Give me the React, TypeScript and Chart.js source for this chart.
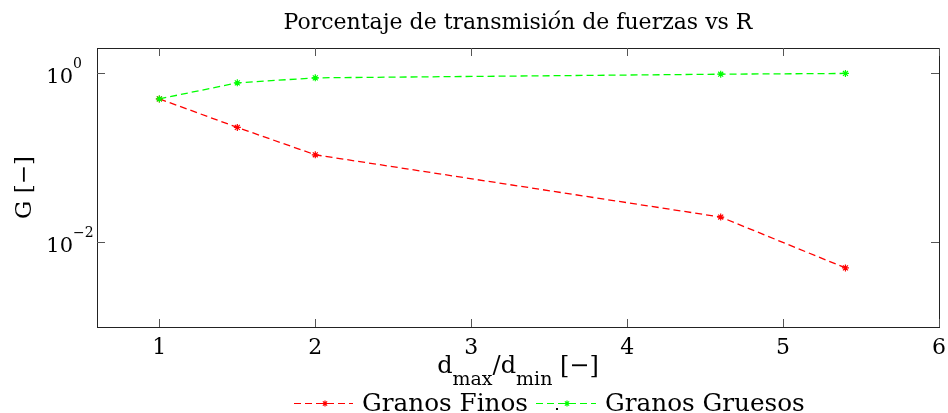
import { useEffect, useRef } from "react";
import { Chart, registerables } from "chart.js";

Chart.register(...registerables);

// Size ratio d_max/d_min and the share of force transmitted by each grain class
const ratios = [1, 1.5, 2, 4.6, 5.4];
const granosFinos = [0.5, 0.23, 0.109, 0.02, 0.005];
const granosGruesos = [0.5, 0.774, 0.887, 0.98, 1.0];

const xTicks = [1, 2, 3, 4, 5, 6];
const yTickExponents = [0, -2];

const seriesNames = ["Granos Finos", "Granos Gruesos"];
const seriesColors = ["#ff0000", "#00ff00"];

const titleParts = ["Porcentaje de transmisi", "ó", "n de fuerzas vs R"];
const yAxisLabel = "G [−]";

const SERIF = "'DejaVu Serif', serif";

type Run = { text: string; font: string; dy: number };

function runsWidth(ctx: CanvasRenderingContext2D, runs: Run[]) {
  let w = 0;
  for (const r of runs) {
    ctx.font = r.font;
    w += ctx.measureText(r.text).width;
  }
  return w;
}

function drawRuns(ctx: CanvasRenderingContext2D, runs: Run[], x: number, y: number) {
  let cx = x;
  ctx.textAlign = "left";
  ctx.textBaseline = "alphabetic";
  for (const r of runs) {
    ctx.font = r.font;
    ctx.fillText(r.text, cx, y + r.dy);
    cx += ctx.measureText(r.text).width;
  }
}

function drawStar(ctx: CanvasRenderingContext2D, x: number, y: number, r: number, color: string) {
  ctx.save();
  ctx.setLineDash([]);
  ctx.strokeStyle = color;
  ctx.lineWidth = 1.2;
  ctx.beginPath();
  ctx.moveTo(x - r, y);
  ctx.lineTo(x + r, y);
  ctx.moveTo(x, y - r);
  ctx.lineTo(x, y + r);
  const d = r * 0.7071;
  ctx.moveTo(x - d, y - d);
  ctx.lineTo(x + d, y + d);
  ctx.moveTo(x - d, y + d);
  ctx.lineTo(x + d, y - d);
  ctx.stroke();
  ctx.restore();
}

const axesPlugin = {
  id: "axesFrame",
  afterDraw(chart: any) {
    const { ctx, chartArea } = chart;
    const { left, right, top, bottom } = chartArea;
    const xs = chart.scales.x;
    const ys = chart.scales.y;
    ctx.save();

    // box
    ctx.strokeStyle = "#222";
    ctx.lineWidth = 1;
    ctx.setLineDash([]);
    ctx.strokeRect(Math.round(left) + 0.5, Math.round(top) + 0.5, Math.round(right - left), Math.round(bottom - top));

    // inward tick marks
    const tickLen = 8;
    ctx.strokeStyle = "#555";
    ctx.beginPath();
    for (const v of xTicks) {
      const px = Math.round(xs.getPixelForValue(v)) + 0.5;
      ctx.moveTo(px, bottom);
      ctx.lineTo(px, bottom - tickLen);
      ctx.moveTo(px, top);
      ctx.lineTo(px, top + tickLen);
    }
    for (const e of yTickExponents) {
      const py = Math.round(ys.getPixelForValue(Math.pow(10, e))) + 0.5;
      ctx.moveTo(left, py);
      ctx.lineTo(left + tickLen, py);
      ctx.moveTo(right, py);
      ctx.lineTo(right - tickLen, py);
    }
    ctx.stroke();

    ctx.fillStyle = "#000";

    // x tick labels
    ctx.font = `22px ${SERIF}`;
    ctx.textAlign = "center";
    ctx.textBaseline = "alphabetic";
    for (const v of xTicks) {
      ctx.fillText(String(v), xs.getPixelForValue(v), bottom + 27);
    }

    // y tick labels as powers of ten
    for (const e of yTickExponents) {
      const py = ys.getPixelForValue(Math.pow(10, e));
      ctx.font = `21px ${SERIF}`;
      ctx.textAlign = "right";
      ctx.fillText("10", 73, py + 10);
      ctx.font = `14px ${SERIF}`;
      ctx.textAlign = "left";
      ctx.fillText(e < 0 ? `−${-e}` : String(e), 73, py - 5);
    }

    // title
    const titleRuns: Run[] = [
      { text: titleParts[0], font: `22px ${SERIF}`, dy: 0 },
      { text: titleParts[1], font: `italic 22px ${SERIF}`, dy: 0 },
      { text: titleParts[2], font: `22px ${SERIF}`, dy: 0 },
    ];
    const cx = (left + right) / 2;
    drawRuns(ctx, titleRuns, cx - runsWidth(ctx, titleRuns) / 2, 29);

    // x axis label with subscripts
    const xRuns: Run[] = [
      { text: "d", font: `24px ${SERIF}`, dy: 0 },
      { text: "max", font: `19px ${SERIF}`, dy: 12 },
      { text: "/d", font: `24px ${SERIF}`, dy: 0 },
      { text: "min", font: `19px ${SERIF}`, dy: 12 },
      { text: " [−]", font: `24px ${SERIF}`, dy: 0 },
    ];
    drawRuns(ctx, xRuns, cx - runsWidth(ctx, xRuns) / 2, 373);

    // y axis label
    ctx.save();
    ctx.translate(25, (top + bottom) / 2);
    ctx.rotate(-Math.PI / 2);
    ctx.font = `23px ${SERIF}`;
    ctx.textAlign = "center";
    ctx.textBaseline = "middle";
    ctx.fillText(yAxisLabel, 0, 0);
    ctx.restore();

    // legend
    const legendItems = [
      { x0: 294, x1: 353, mk: 325, tx: 362 },
      { x0: 536, x1: 596, mk: 567, tx: 605 },
    ];
    const ly = 403.5;
    legendItems.forEach((it, i) => {
      ctx.strokeStyle = seriesColors[i];
      ctx.lineWidth = 1.2;
      ctx.setLineDash([7, 4]);
      ctx.beginPath();
      ctx.moveTo(it.x0, ly);
      ctx.lineTo(it.x1, ly);
      ctx.stroke();
      drawStar(ctx, it.mk, ly, 3, seriesColors[i]);
      ctx.fillStyle = "#000";
      ctx.font = `24.7px ${SERIF}`;
      ctx.textAlign = "left";
      ctx.textBaseline = "alphabetic";
      ctx.fillText(seriesNames[i], it.tx, 411);
    });
    ctx.fillStyle = "#000";
    ctx.fillRect(556, 408, 2, 2);

    ctx.restore();
  },
};

export default function App() {
  const canvasRef = useRef<HTMLCanvasElement | null>(null);

  useEffect(() => {
    const canvas = canvasRef.current;
    if (!canvas) return;
    const makeSeries = (vals: number[], i: number, order: number) => ({
      label: seriesNames[i],
      data: ratios.map((x, k) => ({ x, y: vals[k] })),
      borderColor: seriesColors[i],
      backgroundColor: seriesColors[i],
      borderWidth: 1.3,
      borderDash: [7, 4],
      pointStyle: "star" as const,
      pointRadius: 3.5,
      pointBorderWidth: 1.2,
      tension: 0,
      order,
    });
    const chart = new Chart(canvas, {
      type: "line",
      data: {
        datasets: [makeSeries(granosFinos, 0, 2), makeSeries(granosGruesos, 1, 1)],
      },
      options: {
        responsive: false,
        animation: false,
        devicePixelRatio: 1,
        layout: { padding: { left: 97, top: 48, right: 9, bottom: 86 } },
        scales: {
          x: { type: "linear", min: 0.6, max: 6, display: false },
          y: { type: "logarithmic", min: 0.001, max: 2, display: false },
        },
        plugins: {
          legend: { display: false },
          title: { display: false },
          tooltip: { enabled: false },
        },
      },
      plugins: [axesPlugin],
    });
    return () => chart.destroy();
  }, []);

  return (
    <div style={{ position: "absolute", left: 0, top: 0, width: 948, height: 413, background: "#fff" }}>
      <canvas ref={canvasRef} width={948} height={413} style={{ display: "block" }} />
    </div>
  );
}
